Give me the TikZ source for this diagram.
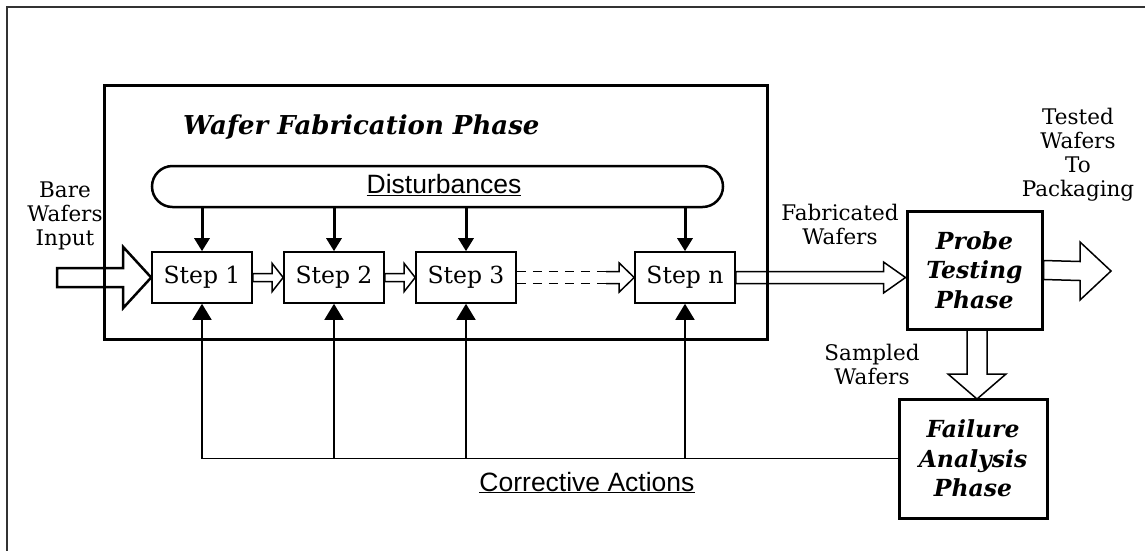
\documentclass[tikz,border=0pt]{standalone}
\usepackage{fontspec}
\setmainfont{DejaVu Serif}
\newfontfamily\sansf{Liberation Sans}
\usetikzlibrary{arrows.meta,calc}
\definecolor{framegray}{HTML}{333333}
\newcommand\harrow[6][]{\draw[#1] ($(#2)+(0,#4)$) -- ($(#3)+(-#6,#4)$) -- ($(#3)+(-#6,#5)$) -- (#3) -- ($(#3)+(-#6,-#5)$) -- ($(#3)+(-#6,-#4)$) -- ($(#2)+(0,-#4)$) -- cycle;}
\newcommand\varrow[6][]{\draw[#1] ($(#2)+(-#4,0)$) -- ($(#3)+(-#4,-#6)$) -- ($(#3)+(-#5,-#6)$) -- (#3) -- ($(#3)+(#5,-#6)$) -- ($(#3)+(#4,-#6)$) -- ($(#2)+(#4,0)$) -- cycle;}
\tikzset{
  stepbox/.style={draw, line width=1.6pt, minimum width=100pt, minimum height=51pt, inner sep=0pt,
    font=\fontsize{23.5}{26}\selectfont},
  phasebox/.style={draw, line width=3pt, inner sep=0pt, align=center,
    font=\fontsize{23.5}{29.5}\selectfont\bfseries\itshape},
  lbl/.style={align=center, inner sep=0pt, font=\fontsize{21.5}{24}\selectfont},
  sanslbl/.style={inner sep=0pt, font=\sansf\fontsize{26.5}{30}\selectfont},
  disturb/.style={line width=3pt, -{Triangle[length=13pt,width=15pt]}},
  feedback/.style={line width=1.6pt, -{Triangle[length=16pt,width=19pt]}},
  hollow/.style={line width=1.5pt, line join=miter},
  bighollow/.style={line width=2.5pt, line join=miter},
}
\begin{document}
\begin{tikzpicture}[x=1pt,y=-1pt]
\useasboundingbox (0,0) rectangle (1145,550);
% outer frame (only left and top edges visible)
\draw[framegray, line width=2.5pt] (7,552) -- (7,7) -- (1147,7);

% wafer fabrication phase box
\node[draw, line width=3pt, minimum width=663pt, minimum height=254pt, inner sep=0pt] (fab) at (435.5,212) {};
\node[anchor=base west, inner sep=0pt, font=\fontsize{26}{29}\selectfont\bfseries\itshape] (title) at (183,134) {Wafer Fabrication Phase};

% disturbances
\node[draw, line width=2.5pt, rounded corners=20.5pt, minimum width=571pt, minimum height=41pt, inner sep=0pt] (dist) at (437.5,186.5) {};
\node[sanslbl, anchor=base] (distlbl) at (444,193.5) {\underline{Disturbances}};

% steps
\node[stepbox] (s1) at (202,277.5) {Step 1};
\node[stepbox] (s2) at (334,277.5) {Step 2};
\node[stepbox] (s3) at (466,277.5) {Step 3};
\node[stepbox] (sn) at (685,277.5) {Step n};

% disturbance arrows
\foreach \s in {s1,s2,s3,sn}{
  \draw[disturb] (\s.north |- dist.south) -- (\s.north);
}

% phase boxes
\node[phasebox, minimum width=135pt, minimum height=118pt] (pt) at (974.5,270) {Probe\\Testing\\Phase};
\node[phasebox, minimum width=148pt, minimum height=119pt] (fa) at (973,458.5) {Failure\\Analysis\\Phase};

% labels
\node[lbl] (bare) at (65,216) {Bare\\Wafers\\Input};
\node[lbl] (fabw) at (840,224) {Fabricated\\Wafers};
\node[lbl] (tested) at (1078,155) {Tested\\Wafers\\To\\Packaging};
\node[lbl] (sampled) at (872,364) {Sampled\\Wafers};
\node[sanslbl, anchor=base] (corr) at (587,491) {\underline{Corrective Actions}};

% input arrow
\coordinate (inp) at (57,277.5);
\harrow[bighollow]{inp}{s1.west}{9.5}{30.5}{28}
% step arrows
\harrow[hollow]{s1.east}{s2.west}{4}{14}{11}
\harrow[hollow]{s2.east}{s3.west}{4}{14}{11}
% dashed step 3 -> step n
\draw[line width=1.5pt, dash pattern=on 9pt off 7pt] ($(s3.east)+(0,-6)$) -- ($(sn.west)+(-15,-6)$);
\draw[line width=1.5pt, dash pattern=on 9pt off 7pt] ($(s3.east)+(0,6)$) -- ($(sn.west)+(-15,6)$);
\draw[hollow] ($(sn.west)+(-28,-6)$) -- ($(sn.west)+(-15,-6)$) -- ($(sn.west)+(-15,-14.5)$) -- (sn.west) -- ($(sn.west)+(-15,14.5)$) -- ($(sn.west)+(-15,6)$) -- ($(sn.west)+(-28,6)$);
% fabricated wafers arrow
\coordinate (fwtip) at (pt.west |- sn.east);
\harrow[hollow]{sn.east}{fwtip}{6}{15.5}{22}
% tested wafers arrow
\coordinate (twtip) at (1111,271);
\harrow[hollow]{pt.east}{twtip}{9.5}{29}{31}
% sampled wafers arrow
\coordinate (swtop) at (977,329);
\coordinate (swtip) at (977,399);
\varrow[hollow]{swtop}{swtip}{10}{29}{25}

% corrective actions feedback
\draw[line width=1.6pt] (fa.west) -- (s1.south |- fa.west);
\foreach \s in {s1,s2,s3,sn}{
  \draw[feedback] (\s.south |- fa.west) -- (\s.south);
}
\end{tikzpicture}
\end{document}
